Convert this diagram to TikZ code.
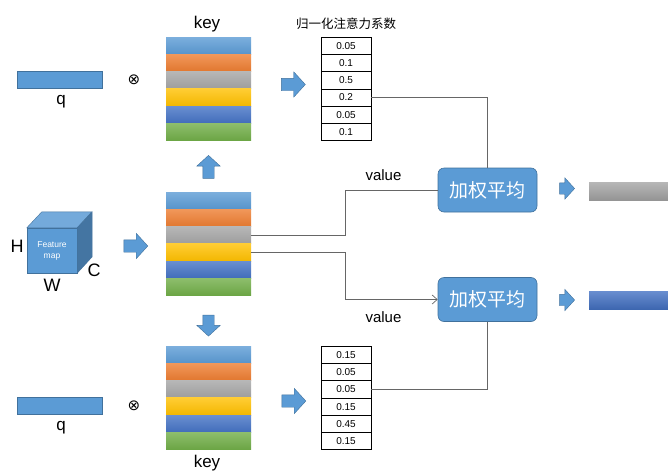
\documentclass[tikz,border=0pt]{standalone}
\usepackage{fontspec}
\setmainfont{Liberation Sans}
\setsansfont{Liberation Sans}
\newfontfamily\cjk{Noto Sans CJK SC}
\newfontfamily\symf{DejaVu Sans}
\usetikzlibrary{arrows,arrows.meta,positioning,shapes}

\definecolor{sblue}{HTML}{5B9BD5}
\definecolor{sorange}{HTML}{ED7D31}
\definecolor{sgray}{HTML}{A5A5A5}
\definecolor{sgold}{HTML}{FFC000}
\definecolor{sdblue}{HTML}{4472C4}
\definecolor{sgreen}{HTML}{70AD47}
\definecolor{edgeblue}{HTML}{41719C}

\begin{document}
\begin{tikzpicture}[x=1pt,y=-1pt,>={Straight Barb[length=5pt,width=9pt]},thin]
\tikzstyle{stripe}=[rectangle,inner sep=0pt,minimum width=85pt,minimum height=17.3pt,top color=#1!80!white,bottom color=#1!95!black,draw=none]
\tikzstyle{cell}=[rectangle,draw=black,line width=0.7pt,inner sep=0pt,minimum width=50pt,minimum height=17.3pt,font=\fontsize{10}{12}\selectfont]
\tikzstyle{blockarrow}=[single arrow,fill=sblue,draw=edgeblue,line width=0.4pt,inner xsep=0pt,inner ysep=6pt,single arrow head extend=6.5pt,single arrow tip angle=95,text height=0pt,text depth=0pt]
\tikzstyle{vblockarrow}=[blockarrow,inner xsep=5.5pt,inner ysep=0pt,single arrow head extend=6pt]
\tikzstyle{avgbox}=[rectangle,rounded corners=6pt,fill=sblue,draw=edgeblue,line width=0.6pt,minimum width=99pt,minimum height=44pt,text=white,font=\cjk\fontsize{19}{22}\selectfont]
\tikzstyle{qbar}=[rectangle,fill=sblue,draw=edgeblue,line width=0.3pt,minimum width=85pt,minimum height=17pt,inner sep=0pt]
\tikzstyle{outbar}=[rectangle,anchor=west,top color=#1!80!white,bottom color=#1!90!black,minimum width=82pt,minimum height=18pt,inner sep=0pt]
\tikzstyle{lbl}=[inner sep=0pt,font=\fontsize{17}{20}\selectfont]
\tikzstyle{link}=[->,draw=black!60,line width=0.7pt]

\useasboundingbox (0,0) rectangle (668,474);

% key / feature stacks
\foreach \c [count=\i] in {sblue,sorange,sgray,sgold,sdblue,sgreen} {
  \node[stripe=\c] (kt\i) at (208.5,{37+\i*17.3-8.65}) {};
  \node[stripe=\c] (m\i)  at (208.5,{192+\i*17.3-8.65}) {};
  \node[stripe=\c] (kb\i) at (208.5,{346+\i*17.3-8.65}) {};
}
\node[lbl] (keyT) at (207,24) {key};
\node[lbl] (keyB) at (207,463) {key};

% attention weights
\node[font=\cjk\fontsize{12.5}{14}\selectfont] (title) at (346,24) {归一化注意力系数};
\foreach \v [count=\i] in {0.05,0.1,0.5,0.2,0.05,0.1}
  \node[cell] (at\i) at (346,{37+\i*17.3-8.65}) {\v};
\foreach \v [count=\i] in {0.15,0.05,0.05,0.15,0.45,0.15}
  \node[cell] (ab\i) at (346,{346+\i*17.3-8.65}) {\v};

% queries
\node[qbar] (qT) at (59.5,79.5) {};
\node[lbl] (qTl) at (61,102) {q};
\node[font=\symf\fontsize{15}{15}\selectfont] (mulT) at (134,80) {⊗};
\node[qbar] (qB) at (59.5,406) {};
\node[lbl] (qBl) at (61,428) {q};
\node[font=\symf\fontsize{15}{15}\selectfont] (mulB) at (134,406) {⊗};

% feature map cube
\node[rectangle,fill=sblue,draw=edgeblue,line width=0.4pt,minimum width=50pt,minimum height=45pt,inner sep=0pt,align=center,text=white,font=\fontsize{8.5}{11}\selectfont] (fmap) at (52,250.5) {Feature\\map};
\draw[fill=sblue!85!white,draw=edgeblue,line width=0.4pt] (fmap.north west) -- ++(15,-16) -- ++(50,0) -- (fmap.north east) -- cycle;
\draw[fill=edgeblue!90!sblue,draw=edgeblue,line width=0.4pt] (fmap.north east) -- ++(15,-16) -- ++(0,45) -- (fmap.south east) -- cycle;
\node[font=\fontsize{18}{20}\selectfont] (hL) at (17,246) {H};
\node[font=\fontsize{18}{20}\selectfont] (cL) at (94,270) {C};
\node[font=\fontsize{18}{20}\selectfont] (wL) at (52,285) {W};

% block arrows
\node[blockarrow,minimum height=24pt] (arFeat) at (133,246) {};
\node[blockarrow,minimum height=24pt] (arTop) at (290.5,84.5) {};
\node[blockarrow,minimum height=24pt] (arBot) at (291,401) {};
\node[vblockarrow,minimum height=23pt,shape border rotate=90] (arUp) at (208.5,169.5) {};
\node[vblockarrow,minimum height=21pt,shape border rotate=270] (arDown) at (208.5,323) {};

% weighted average
\node[avgbox] (avgA) at (487.5,190) {加权平均};
\node[avgbox] (avgB) at (487.5,299.5) {加权平均};
\node[blockarrow,minimum height=15pt,inner ysep=5.5pt,single arrow head extend=5pt] (arA) at (564.5,188.5) {};
\node[blockarrow,minimum height=15pt,inner ysep=5.5pt,single arrow head extend=5pt] (arB) at (564.5,300) {};
\node[outbar=sgray] (outA) at (589,191) {};
\node[outbar=sdblue] (outB) at (589,300) {};

\node[font=\fontsize{15}{18}\selectfont] (valA) at (383.5,175) {value};
\node[font=\fontsize{15}{18}\selectfont] (valB) at (383.5,317) {value};

\path[link]
(at4.east) -| (avgA.north)
(ab3.east) -| (avgB.south)
(m3.east) -- ++(94,0) |- (avgA.west)
(m4.east) -- ++(94,0) |- (avgB.west)
;

\end{tikzpicture}
\end{document}
